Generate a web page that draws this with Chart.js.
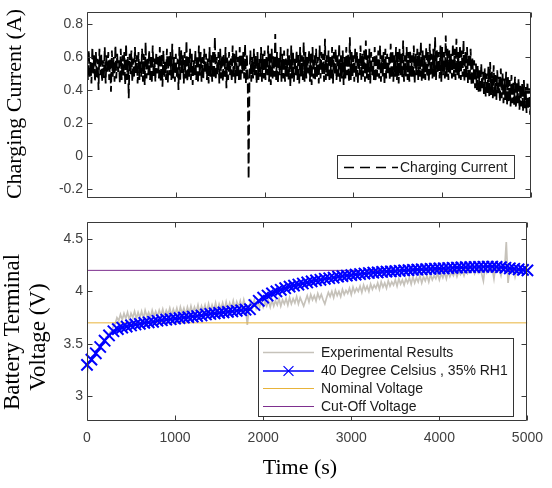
<!DOCTYPE html>
<html><head><meta charset="utf-8">
<script src="https://cdn.jsdelivr.net/npm/chart.js@4.4.0/dist/chart.umd.min.js"></script>
<style>
html,body{margin:0;padding:0;background:#fff;}
#wrap{position:relative;width:552px;height:488px;overflow:hidden;}
canvas{position:absolute;left:0;}
#c1{top:0}
#c2{top:210px}
</style></head><body>
<div id="wrap"><canvas id="c1" width="552" height="210"></canvas><canvas id="c2" width="552" height="278"></canvas></div>
<script>
// ---------------- data ----------------
const timeRange = [0, 5000];
const timeTicks = [0, 1000, 2000, 3000, 4000, 5000];
const currentTicks = [-0.2, 0, 0.2, 0.4, 0.6, 0.8];
const voltageTicks = [3, 3.5, 4, 4.5];

const currentStep = 10;    // s between current samples
const chargingCurrent = [
0.60,0.46,0.64,0.48,0.57,0.44,0.66,0.50,0.61,0.45,
0.63,0.47,0.59,0.40,0.65,0.49,0.62,0.45,0.58,0.47,
0.66,0.44,0.61,0.50,0.63,0.46,0.59,0.39,0.64,0.48,
0.60,0.45,0.67,0.47,0.62,0.51,0.58,0.44,0.65,0.46,
0.61,0.48,0.63,0.43,0.68,0.46,0.60,0.35,0.62,0.49,
0.64,0.45,0.59,0.47,0.66,0.50,0.61,0.44,0.63,0.46,
0.58,0.48,0.65,0.45,0.62,0.43,0.69,0.47,0.60,0.49,
0.64,0.46,0.61,0.44,0.67,0.48,0.59,0.45,0.63,0.50,
0.60,0.47,0.66,0.45,0.62,0.42,0.64,0.48,0.58,0.46,
0.65,0.44,0.61,0.49,0.63,0.46,0.68,0.47,0.60,0.45,
0.62,0.48,0.59,0.40,0.66,0.46,0.64,0.50,0.61,0.44,
0.63,0.47,0.70,0.45,0.60,0.48,0.65,0.46,0.62,0.43,
0.58,0.49,0.64,0.46,0.61,0.44,0.67,0.48,0.63,0.45,
0.60,0.47,0.65,0.50,0.62,0.46,0.59,0.44,0.66,0.48,
0.61,0.45,0.64,0.47,0.72,0.46,0.60,0.49,0.63,0.44,
0.65,0.47,0.61,0.45,0.62,0.48,0.66,0.41,0.60,0.46,
0.63,0.49,0.59,0.45,0.67,0.47,0.62,0.44,0.64,0.48,
0.60,0.46,0.66,0.45,0.61,0.50,0.63,0.47,0.68,0.44,
0.62,0.46,-0.14,0.48,0.64,0.45,0.60,0.47,0.65,0.49,
0.61,0.44,0.63,0.46,0.59,0.48,0.66,0.45,0.62,0.47,
0.64,0.46,0.60,0.49,0.67,0.45,0.62,0.43,0.65,0.47,
0.61,0.48,0.74,0.46,0.63,0.44,0.60,0.49,0.66,0.45,
0.62,0.47,0.64,0.45,0.59,0.48,0.65,0.46,0.61,0.42,
0.67,0.47,0.63,0.45,0.60,0.49,0.64,0.46,0.62,0.44,
0.66,0.48,0.61,0.46,0.69,0.45,0.63,0.47,0.60,0.50,
0.64,0.45,0.62,0.43,0.66,0.47,0.61,0.46,0.65,0.48,
0.60,0.44,0.67,0.47,0.63,0.49,0.62,0.45,0.71,0.46,
0.61,0.48,0.64,0.45,0.60,0.47,0.66,0.44,0.63,0.49,
0.65,0.46,0.62,0.48,0.68,0.45,0.61,0.47,0.64,0.43,
0.60,0.47,0.66,0.49,0.62,0.45,0.72,0.46,0.63,0.48,
0.61,0.45,0.65,0.47,0.63,0.44,0.60,0.49,0.67,0.46,
0.62,0.48,0.64,0.45,0.70,0.47,0.61,0.46,0.65,0.44,
0.63,0.49,0.60,0.46,0.66,0.45,0.62,0.48,0.64,0.47,
0.67,0.45,0.61,0.48,0.63,0.43,0.65,0.47,0.62,0.49,
0.60,0.46,0.68,0.47,0.64,0.45,0.61,0.48,0.66,0.46,
0.63,0.44,0.65,0.49,0.62,0.47,0.70,0.45,0.61,0.48,
0.66,0.46,0.63,0.45,0.64,0.48,0.61,0.47,0.67,0.44,
0.62,0.49,0.65,0.46,0.63,0.48,0.69,0.45,0.64,0.47,
0.61,0.46,0.66,0.48,0.63,0.45,0.68,0.49,0.62,0.47,
0.65,0.48,0.72,0.46,0.64,0.50,0.63,0.47,0.67,0.45,
0.66,0.49,0.63,0.47,0.73,0.48,0.65,0.46,0.64,0.50,
0.62,0.47,0.68,0.48,0.65,0.46,0.71,0.49,0.63,0.47,
0.67,0.46,0.64,0.48,0.70,0.45,0.63,0.47,0.66,0.44,
0.62,0.45,0.65,0.43,0.60,0.44,0.58,0.41,0.56,0.40,
0.55,0.39,0.52,0.38,0.56,0.40,0.51,0.37,0.53,0.36,
0.50,0.38,0.54,0.36,0.57,0.37,0.51,0.35,0.55,0.36,
0.49,0.34,0.52,0.37,0.48,0.33,0.53,0.35,0.50,0.32,
0.47,0.34,0.51,0.31,0.48,0.33,0.46,0.30,0.49,0.32,
0.45,0.31,0.48,0.29,0.44,0.32,0.47,0.28,0.43,0.30,
0.44,0.27,0.46,0.29,0.42,0.26,0.45,0.28,0.41,0.25,
0.38
];

const measuredStep = 20;   // s between measured voltage samples
const experimentalVoltage = [
3.20,3.33,3.33,3.38,3.38,3.43,3.43,3.47,3.48,3.52,
3.52,3.57,3.57,3.61,3.62,3.67,3.69,3.75,3.72,3.78,
3.73,3.79,3.74,3.80,3.73,3.79,3.75,3.81,3.74,3.80,
3.75,3.81,3.74,3.82,3.76,3.80,3.75,3.82,3.76,3.81,
3.76,3.82,3.77,3.83,3.76,3.82,3.78,3.84,3.77,3.83,
3.78,3.84,3.77,3.85,3.79,3.84,3.78,3.85,3.79,3.86,
3.79,3.85,3.80,3.87,3.79,3.86,3.81,3.87,3.80,3.88,
3.81,3.87,3.82,3.89,3.81,3.88,3.83,3.89,3.82,3.90,
3.83,3.89,3.84,3.91,3.83,3.90,3.85,3.91,3.84,3.92,
3.85,3.68,3.86,3.91,3.85,3.92,3.84,3.90,3.85,3.91,
3.85,3.90,3.86,3.91,3.85,3.92,3.86,3.91,3.87,3.93,
3.86,3.92,3.88,3.93,3.87,3.94,3.88,3.93,3.89,3.95,
3.88,3.94,3.90,3.86,3.91,3.96,3.90,3.97,3.92,3.96,
3.91,3.98,3.93,3.97,3.92,3.88,3.94,3.99,3.95,4.00,
3.94,4.01,3.96,4.00,3.95,4.02,3.97,4.01,3.98,4.03,
3.97,4.04,3.99,4.03,4.00,4.05,3.99,4.06,4.01,4.05,
4.00,4.07,4.02,4.06,4.03,4.08,4.02,4.09,4.04,4.08,
4.03,4.10,4.05,4.09,4.06,4.11,4.05,4.12,4.07,4.11,
4.06,4.12,4.08,4.13,4.07,4.14,4.08,4.13,4.09,4.15,
4.08,4.14,4.10,4.15,4.09,4.16,4.11,4.15,4.12,4.17,
4.11,4.17,4.13,4.18,4.12,4.19,4.14,4.18,4.15,4.20,
4.14,4.19,4.16,4.20,4.15,4.21,4.17,4.20,4.18,4.22,
4.17,4.22,4.18,4.23,4.17,4.10,4.24,4.18,4.22,4.19,
4.22,4.12,4.25,4.19,4.21,4.15,4.23,4.20,4.47,4.08,
4.22,4.18,4.24,4.14,4.21,4.19,4.23,4.18,4.22,4.19,4.21
];

const modelStep = 50;      // s between model points
const modelVoltage = [
3.30,3.35,3.41,3.47,3.53,3.58,3.62,3.64,3.655,3.665,
3.675,3.685,3.69,3.70,3.705,3.71,3.72,3.725,3.73,3.735,
3.74,3.745,3.75,3.755,3.76,3.765,3.77,3.78,3.785,3.79,
3.795,3.80,3.805,3.81,3.815,3.82,3.825,3.83,3.87,3.91,
3.94,3.96,3.98,4.00,4.015,4.03,4.045,4.055,4.065,4.075,
4.085,4.095,4.105,4.11,4.12,4.125,4.13,4.14,4.145,4.15,
4.155,4.16,4.165,4.17,4.175,4.178,4.18,4.185,4.188,4.19,
4.193,4.196,4.2,4.202,4.205,4.207,4.21,4.212,4.214,4.216,
4.218,4.22,4.222,4.224,4.226,4.228,4.23,4.231,4.232,4.233,
4.234,4.235,4.235,4.233,4.23,4.225,4.22,4.215,4.21,4.205,
4.2
];

const nominalVoltage = 3.7;
const cutoffVoltage = 4.2;

const seriesLabels = {
  current: 'Charging Current',
  experimental: 'Experimental Results',
  model: '40 Degree Celsius , 35% RH1',
  nominal: 'Nominal Voltage',
  cutoff: 'Cut-Off Voltage'
};
const axisTitles = {
  current: 'Charging Current (A)',
  voltage: ['Battery Terminal', 'Voltage (V)'],
  time: 'Time (s)'
};

// ---------------- helpers ----------------
const toXY = (arr, step) => arr.map((v, i) => ({x: i * step, y: v}));
const flat = (v) => [{x: timeRange[0], y: v}, {x: timeRange[1], y: v}];
const plainTick = v => String(+v.toFixed(3));

const TICK_FONT = {family: '"Liberation Sans", Arial, sans-serif', size: 14};
const TICK_COLOR = '#404040';
const SERIF_FAMILY = '"Liberation Serif", "Times New Roman", serif';
const SANS = '14px "Liberation Sans", Arial, sans-serif';

function makeFrame(xTicks, yTicks) {
  return {
    id: 'frame',
    afterDatasetsDraw(chart) {
      const {ctx, chartArea: a} = chart;
      const xs = chart.scales.x, ys = chart.scales.y;
      const L = Math.round(a.left) + 0.5, R = Math.round(a.right) - 0.5;
      const T = Math.round(a.top) + 0.5, B = Math.round(a.bottom) - 0.5;
      const len = 5;
      ctx.save();
      ctx.strokeStyle = '#3a3a3a';
      ctx.lineWidth = 1;
      ctx.beginPath();
      ctx.rect(L, T, R - L, B - T);
      xTicks.forEach(v => {
        const p = Math.round(xs.getPixelForValue(v)) + 0.5;
        ctx.moveTo(p, B); ctx.lineTo(p, B - len);
        ctx.moveTo(p, T); ctx.lineTo(p, T + len);
      });
      yTicks.forEach(v => {
        const p = Math.round(ys.getPixelForValue(v)) + 0.5;
        ctx.moveTo(L, p); ctx.lineTo(L + len, p);
        ctx.moveTo(R, p); ctx.lineTo(R - len, p);
      });
      ctx.stroke();
      ctx.restore();
    }
  };
}

function makeLegend(box, rowsY, lineX, textX) {
  return {
    id: 'boxLegend',
    afterDraw(chart) {
      const ctx = chart.ctx;
      ctx.save();
      ctx.fillStyle = '#fff';
      ctx.fillRect(box[0], box[1], box[2] - box[0], box[3] - box[1]);
      ctx.strokeStyle = '#333';
      ctx.lineWidth = 1;
      ctx.strokeRect(box[0] + 0.5, box[1] + 0.5, box[2] - box[0], box[3] - box[1]);
      chart.data.datasets.forEach((ds, i) => {
        const y = rowsY[i];
        ctx.save();
        ctx.strokeStyle = ds.borderColor;
        ctx.lineWidth = Math.min(ds.borderWidth, 1.3);
        ctx.setLineDash(ds.borderDash ? [10, 6] : []);
        ctx.beginPath();
        ctx.moveTo(lineX[0], y + 0.5);
        ctx.lineTo(lineX[1], y + 0.5);
        ctx.stroke();
        ctx.setLineDash([]);
        if (ds.pointRadius > 0) {
          ctx.lineWidth = 1.2;
          Chart.helpers.drawPoint(ctx, {pointStyle: ds.pointStyle, radius: 7, borderWidth: 1.2, rotation: 0}, (lineX[0] + lineX[1]) / 2, y + 0.5);
        }
        ctx.restore();
        ctx.fillStyle = '#1a1a1a';
        ctx.font = SANS;
        ctx.textAlign = 'left';
        ctx.textBaseline = 'middle';
        ctx.fillText(ds.label, textX, y + 1);
      });
      ctx.restore();
    }
  };
}

function makeTitles(items) {
  return {
    id: 'titles',
    afterDraw(chart) {
      const ctx = chart.ctx;
      items.forEach(it => {
        ctx.save();
        ctx.translate(it.x, it.y);
        ctx.rotate(it.rot || 0);
        ctx.font = it.size + 'px ' + SERIF_FAMILY;
        ctx.fillStyle = '#000';
        ctx.textAlign = 'center';
        ctx.textBaseline = 'middle';
        ctx.fillText(it.text, 0, 0);
        ctx.restore();
      });
    }
  };
}

const common = {
  responsive: false,
  animation: false,
  devicePixelRatio: 1,
  events: [],
  plugins: {legend: {display: false}, tooltip: {enabled: false}},
  elements: {line: {tension: 0}, point: {radius: 0}}
};

// ---------------- top chart: charging current ----------------
new Chart(document.getElementById('c1'), {
  type: 'line',
  data: {
    datasets: [{
      label: seriesLabels.current,
      data: toXY(chargingCurrent, currentStep),
      borderColor: '#000000',
      borderWidth: 1.8,
      borderDash: [10, 4],
      pointRadius: 0
    }]
  },
  options: Object.assign({}, common, {
    layout: {padding: {left: 0, right: 21, top: 7, bottom: 0}},
    scales: {
      x: {
        type: 'linear', min: timeRange[0], max: timeRange[1],
        grid: {display: false}, border: {display: false},
        ticks: {display: false},
        afterFit: s => { s.height = 12; }
      },
      y: {
        min: -0.253, max: 0.8706,
        grid: {display: false, drawTicks: false}, border: {display: false},
        ticks: {font: TICK_FONT, color: TICK_COLOR, padding: 4, callback: plainTick},
        afterBuildTicks: s => { s.ticks = currentTicks.map(v => ({value: v})); },
        afterFit: s => { s.width = 87; }
      }
    }
  }),
  plugins: [
    makeFrame(timeTicks, currentTicks),
    makeLegend([337, 155, 514, 178], [167], [344, 398], 400),
    makeTitles([{text: axisTitles.current, x: 15, y: 104, rot: -Math.PI / 2, size: 22}])
  ]
});

// ---------------- bottom chart: terminal voltage ----------------
new Chart(document.getElementById('c2'), {
  type: 'line',
  data: {
    datasets: [
      {
        label: seriesLabels.experimental,
        data: toXY(experimentalVoltage, measuredStep),
        borderColor: '#c6c2ba', borderWidth: 1.7, pointRadius: 0, order: 4
      },
      {
        label: seriesLabels.model,
        data: toXY(modelVoltage, modelStep),
        borderColor: '#0000ff', borderWidth: 1.5,
        pointStyle: 'crossRot', pointRadius: 8, pointBorderWidth: 2,
        pointBorderColor: '#0000ff', pointBackgroundColor: '#0000ff',
        clip: false, order: 1
      },
      {
        label: seriesLabels.nominal,
        data: flat(nominalVoltage),
        borderColor: '#e8b33a', borderWidth: 1, pointRadius: 0, order: 3
      },
      {
        label: seriesLabels.cutoff,
        data: flat(cutoffVoltage),
        borderColor: '#7e2f8e', borderWidth: 1, pointRadius: 0, order: 2
      }
    ]
  },
  options: Object.assign({}, common, {
    layout: {padding: {left: 0, right: 24, top: 10, bottom: 0}},
    scales: {
      x: {
        type: 'linear', min: timeRange[0], max: timeRange[1],
        grid: {display: false, drawTicks: false}, border: {display: false},
        ticks: {font: TICK_FONT, color: TICK_COLOR, padding: 9, maxRotation: 0, callback: plainTick},
        afterBuildTicks: s => { s.ticks = timeTicks.map(v => ({value: v})); },
        afterFit: s => { s.height = 67; }
      },
      y: {
        min: 2.765, max: 4.657,
        grid: {display: false, drawTicks: false}, border: {display: false},
        ticks: {font: TICK_FONT, color: TICK_COLOR, padding: 4, callback: plainTick},
        afterBuildTicks: s => { s.ticks = voltageTicks.map(v => ({value: v})); },
        afterFit: s => { s.width = 87; }
      }
    }
  }),
  plugins: [
    makeFrame(timeTicks, voltageTicks),
    makeLegend([258, 128, 513, 206], [142, 160.5, 178, 196], [263, 314], 321),
    makeTitles([
      {text: axisTitles.voltage[0], x: 13, y: 122, rot: -Math.PI / 2, size: 23},
      {text: axisTitles.voltage[1], x: 39, y: 127, rot: -Math.PI / 2, size: 23},
      {text: axisTitles.time, x: 300, y: 258, rot: 0, size: 22}
    ])
  ]
});
</script>
</body></html>
